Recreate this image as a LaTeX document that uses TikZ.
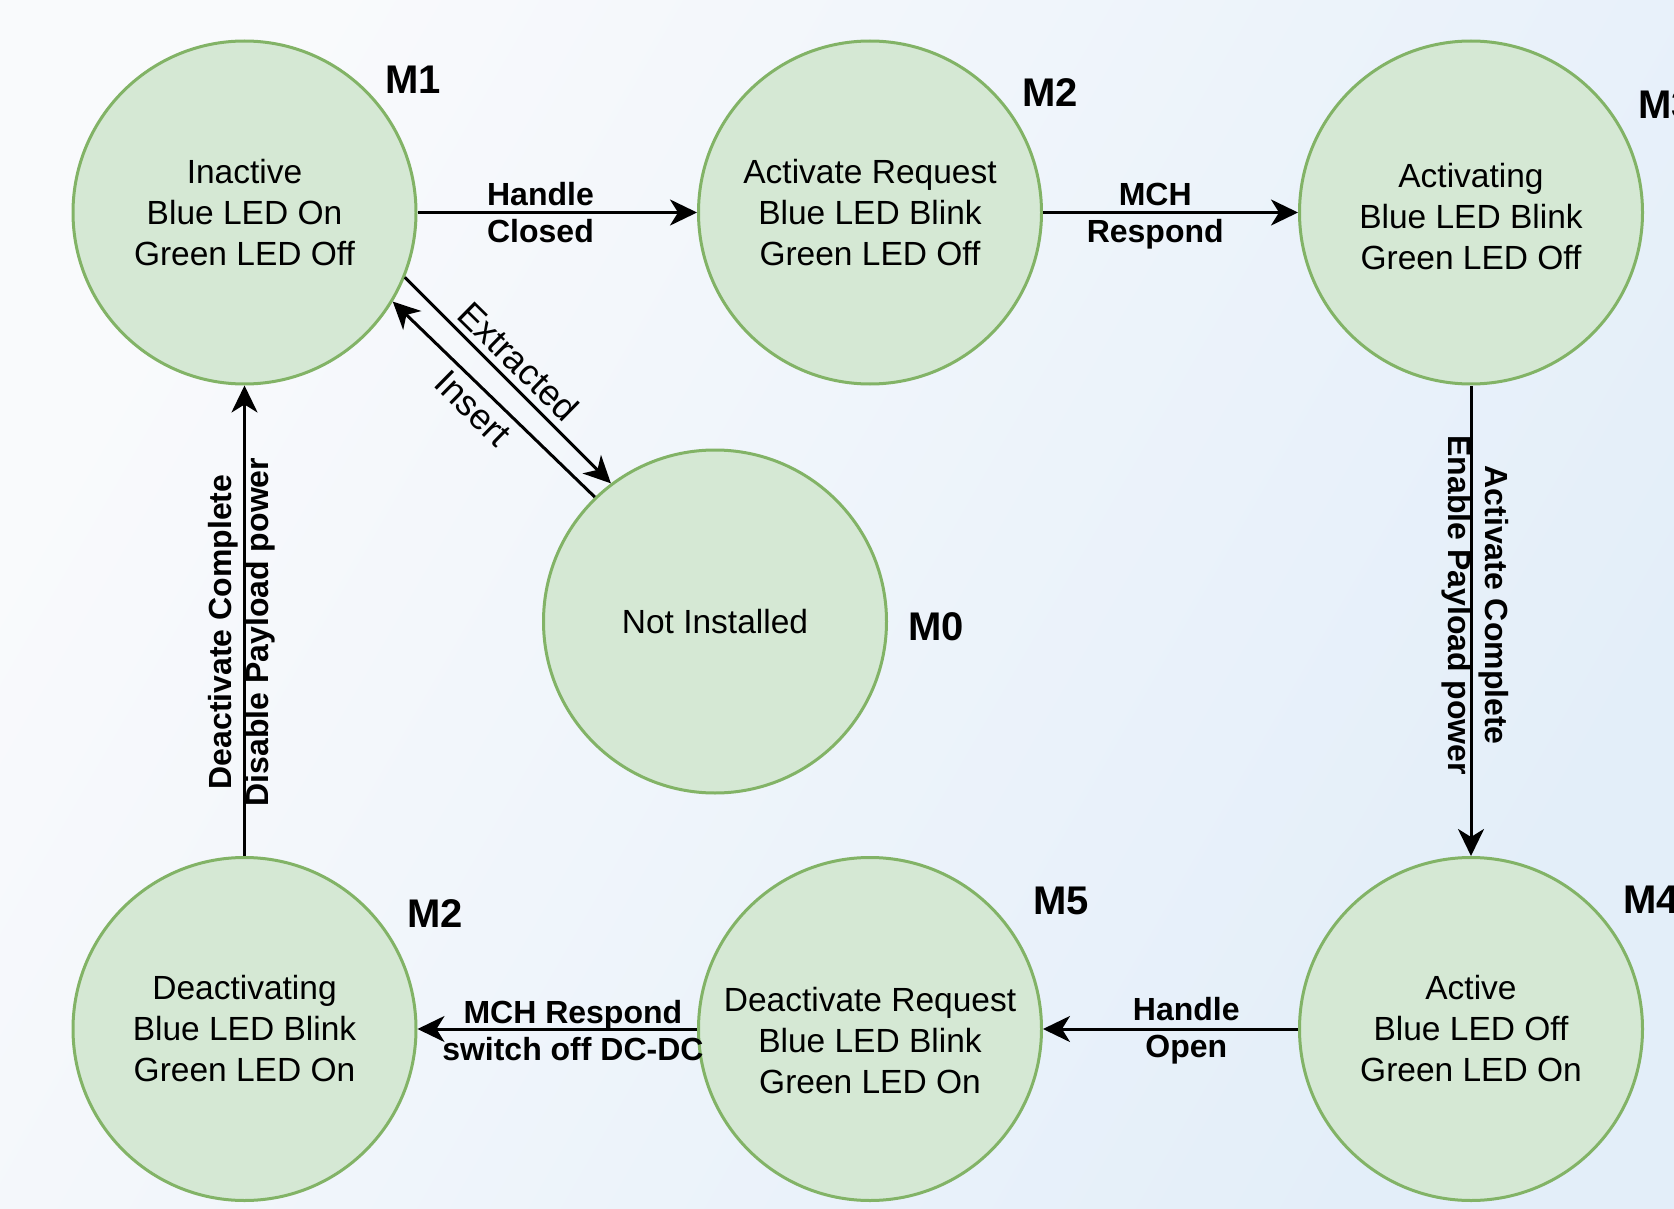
\documentclass[tikz,border=0pt]{standalone}
\usepackage{fontspec}
\setmainfont{Liberation Sans}
\usetikzlibrary{arrows.meta}
\definecolor{stfill}{HTML}{D5E8D4}
\definecolor{ststroke}{HTML}{82B366}
\definecolor{bgA}{HTML}{F9FAFC}
\definecolor{bgB}{HTML}{E3EEF9}
\begin{document}
\begin{tikzpicture}[x=1pt,y=-1pt,
  state/.style={circle, draw=ststroke, fill=stfill, line width=3pt, minimum size=343pt,
    inner sep=0pt, align=center, font=\fontsize{33.5}{41}\selectfont},
  mlabel/.style={anchor=west, inner sep=0pt, font=\fontsize{40}{48}\selectfont\bfseries},
  trans/.style={line width=3pt, -{Stealth[length=27pt,width=26pt,inset=8pt]}},
  elabel/.style={align=center, inner sep=0pt, font=\fontsize{32}{37}\selectfont\bfseries},
  dlabel/.style={inner sep=0pt, font=\fontsize{36}{40}\selectfont}]
\shade[left color=bgA, right color=bgB, shading angle=60] (0,0) rectangle (1674,1209);
\useasboundingbox (0,0) rectangle (1674,1209);

% states
\node[state] (m1)  at (244.5,212.5) {Inactive\\Blue LED On\\Green LED Off};
\node[state] (m2)  at (870,212.5)   {Activate Request\\Blue LED Blink\\Green LED Off};
\node[state] (m3)  at (1471,212.5)  {\rule{0pt}{32.5pt}Activating\\Blue LED Blink\\Green LED Off};
\node[state] (m0)  at (715,621.5)   {Not Installed};
\node[state] (m2b) at (244.5,1029)  {Deactivating\\Blue LED Blink\\Green LED On};
\node[state] (m5)  at (870,1029)    {\rule{0pt}{48pt}Deactivate Request\\Blue LED Blink\\Green LED On};
\node[state] (m4)  at (1471,1029)   {Active\\Blue LED Off\\Green LED On};

% state tags
\node[mlabel] (t1)  at (385,80)   {M1};
\node[mlabel] (t2)  at (1022,93)  {M2};
\node[mlabel] (t3)  at (1638,105) {M3};
\node[mlabel] (t0)  at (908,627)  {M0};
\node[mlabel] (t2b) at (407,914)  {M2};
\node[mlabel] (t5)  at (1033,901) {M5};
\node[mlabel] (t4)  at (1623,900) {M4};

% transitions
\draw[trans] (m1) -- (m2) node[elabel, pos=0.44] (e12) {Handle\\Closed};
\draw[trans] (m2) -- (m3) node[elabel, pos=0.44, yshift=-4pt] (e23) {MCH\\Respond};
\draw[trans] (m3) -- (m4) node[elabel, pos=0.467, xshift=4.5pt, rotate=-90] (e34) {Activate Complete\\Enable Payload power};
\draw[trans] (m4) -- (m5) node[elabel, pos=0.438, yshift=-2pt] (e45) {Handle\\Open};
\draw[trans] (m5) -- (m2b) node[elabel, pos=0.444, yshift=-2pt] (e52) {MCH Respond\\switch off DC-DC};
\draw[trans] (m2b) -- (m1) node[elabel, pos=0.476, xshift=-2.5pt, rotate=90] (e21) {Deactivate Complete\\Disable Payload power};

\draw[trans] (m1.-22.9) -- (m0.127.2) node[dlabel, pos=0.48, rotate=-44.5, yshift=21pt] (ex) {Extracted};
\draw[trans] (m0.134.6) -- (m1.-31.4) node[dlabel, pos=0.53, rotate=-44.5, yshift=-21pt] (in) {Insert};
\end{tikzpicture}
\end{document}
